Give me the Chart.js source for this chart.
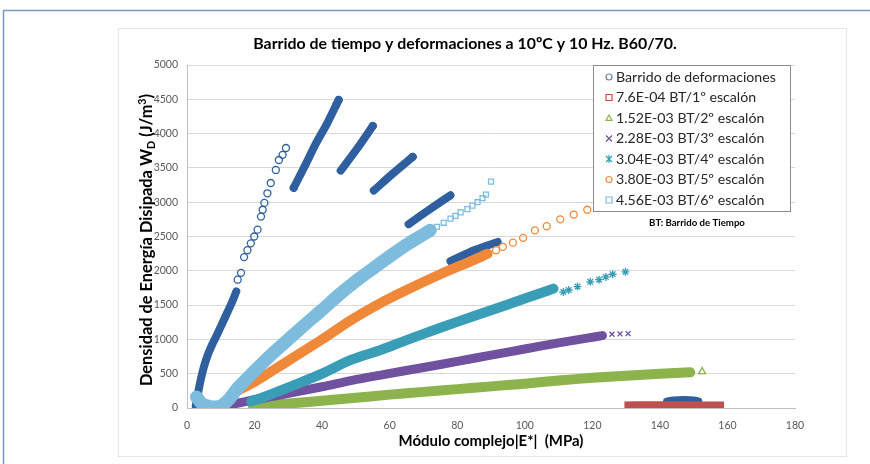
<!DOCTYPE html>
<html>
<head>
<meta charset="utf-8">
<script src="https://cdn.jsdelivr.net/npm/chart.js@4.4.0/dist/chart.umd.min.js"></script>
<style>
  html, body { margin: 0; padding: 0; background: #fff; }
  #wrap { width: 870px; height: 464px; position: relative; }
</style>
</head>
<body>
<div id="wrap"><canvas id="c" width="870" height="464"></canvas></div>
<script>
// ---------- axis ticks ----------
const xTickValues = [0, 20, 40, 60, 80, 100, 120, 140, 160, 180];
const yTickValues = [0, 500, 1000, 1500, 2000, 2500, 3000, 3500, 4000, 4500, 5000];

// ---------- series names ----------
const seriesNames = [
  'Barrido de deformaciones',
  '7.6E-04 BT/1º escalón',
  '1.52E-03 BT/2º escalón',
  '2.28E-03 BT/3º escalón',
  '3.04E-03 BT/4º escalón',
  '3.80E-03 BT/5º escalón',
  '4.56E-03 BT/6º escalón'
];

// ---------- data: [ |E*| (MPa), W_D (J/m3) ] ----------
// strain sweep: dense runs and the open-circle points between them
const sweepRunA = [[2.6,30],[3.2,200],[4.0,400],[5.0,600],[6.2,780],[7.6,940],[9.1,1090],[10.6,1250],[12.1,1410],[13.6,1575],[14.6,1700]];
const sweepRunB = [[31.6,3210],[35,3540],[38,3840],[41.5,4150],[44.9,4490]];
const sweepRunC = [[45.5,3460],[50.5,3790],[55,4110]];
const sweepRunD = [[55.3,3170],[61,3420],[66.8,3660]];
const sweepRunE = [[65.6,2680],[72,2900],[78,3100]];
const sweepRunF = [[78,2140],[85,2300],[92,2420]];
const sweepRunG = [[142,100],[144,118],[147,125],[150,118],[151.5,100]];
const sweepPoints = [[15,1870],[16,1970],[16.9,2200],[17.9,2300],[18.9,2400],[19.9,2500],[20.9,2600],[21.9,2790],[22.4,2890],[22.9,2990],[23.8,3130],[24.8,3280],[26.3,3470],[27.2,3615],[28.3,3690],[29.3,3790],[31.6,3210],[44.2,4420],[44.9,4490],[55,4110],[66.8,3660]];

// time sweeps (dense run + sparse final points)
const step1Run = [[129.5,30],[137,32],[145,32],[152,30],[159,30]];
const step2Run = [[19.5,20],[30,65],[40,105],[50,150],[60,195],[70,235],[80,275],[90,315],[100,355],[110,400],[120,440],[130,470],[140,500],[149,520]];
const step2Points = [[152.5,530]];
const step3Run = [[12,40],[16,80],[20,120],[25,165],[30,215],[40,310],[48.5,400],[57.3,480],[70,590],[80,680],[90,770],[100,860],[110,950],[118,1015],[123,1055]];
const step3Points = [[125.8,1075],[128.2,1080],[130.6,1085]];
const step4Run = [[19,100],[22.8,160],[30,300],[40,500],[48.5,700],[57.3,845],[65,990],[75,1170],[85,1340],[95,1510],[105,1680],[108.5,1740]];
const step4Points = [[111.4,1690],[113,1720],[115.6,1770],[119.4,1840],[122,1870],[124,1910],[126,1950],[129.8,1985]];
const step5Run = [[14,230],[20,380],[30,690],[40,1000],[48.5,1280],[57.3,1530],[65,1720],[75,1950],[85,2160],[89,2250]];
const step5Points = [[91.5,2300],[93.5,2350],[96.5,2410],[99.5,2480],[103,2590],[106.5,2650],[110.5,2750],[114.5,2820],[118.5,2890]];
const step6Run = [[2.8,160],[4.5,60],[7,20],[10,30],[12.5,130],[15,290],[20,540],[25,780],[30,1000],[35,1220],[40,1430],[45,1650],[50,1850],[55,2030],[60,2210],[65,2380],[70,2530],[72,2590]];
const step6Points = [[74,2640],[76,2700],[78,2760],[79.5,2800],[81,2850],[83,2900],[84.5,2950],[86,3000],[87.5,3060],[88.5,3110],[90,3300]];

// ---------- styling ----------
const COLORS = ['#2F5F9E', '#C0504D', '#8CB34C', '#6F51A0', '#3A9DB8', '#F0883A', '#7DBCDD'];
const MARKERS = ['circle', 'rect', 'triangle', 'crossRot', 'star', 'circle', 'rect'];
const FONT = 'Lato, "Open Sans", sans-serif';

const toXY = arr => arr.map(p => ({ x: p[0], y: p[1] }));

// a dense run is drawn as a thick stroke; sparse points as open markers
function run(arr, s, width, cap) {
  return {
    data: toXY(arr), showLine: true, pointRadius: 0, borderColor: COLORS[s],
    borderWidth: width, borderCapStyle: cap || 'round', borderJoinStyle: 'round',
    tension: 0.3, order: 7 - s, fill: false
  };
}
function points(arr, s, radius) {
  return {
    data: toXY(arr), showLine: false, pointStyle: MARKERS[s], pointRadius: radius || 3.5,
    pointBorderColor: COLORS[s], pointBackgroundColor: 'rgba(0,0,0,0)', pointBorderWidth: 1.3,
    order: 7 - s
  };
}

const datasets = [
  run(sweepRunA, 0, 8), run(sweepRunB, 0, 8), run(sweepRunC, 0, 8), run(sweepRunD, 0, 8),
  run(sweepRunE, 0, 8), run(sweepRunF, 0, 8), run(sweepRunG, 0, 7),
  points(sweepPoints, 0, 3.5),
  run(step1Run, 1, 9, 'butt'),
  run(step2Run, 2, 10), points(step2Points, 2, 4),
  run(step3Run, 3, 9), points(step3Points, 3, 3.5),
  run(step4Run, 4, 10), points(step4Points, 4, 4),
  run(step5Run, 5, 10), points(step5Points, 5, 3.5),
  run(step6Run, 6, 13), points(step6Points, 6, 3.5)
];

// ---------- drawing helpers ----------
function fitFont(ctx, text, weight, target) {
  ctx.font = `${weight} 20px ${FONT}`;
  return 20 * target / ctx.measureText(text).width;
}

function drawMarker(ctx, style, x, y, r, color) {
  ctx.save();
  ctx.strokeStyle = color;
  ctx.lineWidth = 1.2;
  ctx.beginPath();
  if (style === 'circle') {
    ctx.arc(x, y, r, 0, Math.PI * 2);
  } else if (style === 'rect') {
    ctx.rect(x - r, y - r, 2 * r, 2 * r);
  } else if (style === 'triangle') {
    ctx.moveTo(x, y - r); ctx.lineTo(x + r, y + r * 0.8); ctx.lineTo(x - r, y + r * 0.8); ctx.closePath();
  } else if (style === 'crossRot') {
    ctx.moveTo(x - r, y - r); ctx.lineTo(x + r, y + r); ctx.moveTo(x + r, y - r); ctx.lineTo(x - r, y + r);
  } else if (style === 'star') {
    ctx.moveTo(x - r, y - r); ctx.lineTo(x + r, y + r); ctx.moveTo(x + r, y - r); ctx.lineTo(x - r, y + r);
    ctx.moveTo(x, y - r * 1.3); ctx.lineTo(x, y + r * 1.3);
  }
  ctx.stroke();
  ctx.restore();
}

// text made of runs with their own size and vertical shift (subscripts / superscripts)
function drawRich(ctx, parts, cx, cy, weight, size) {
  let total = 0;
  parts.forEach(p => { ctx.font = `${weight} ${size * (p.scale || 1)}px ${FONT}`; p.w = ctx.measureText(p.t).width; total += p.w; });
  let x = cx - total / 2;
  ctx.textAlign = 'left';
  ctx.textBaseline = 'middle';
  parts.forEach(p => {
    ctx.font = `${weight} ${size * (p.scale || 1)}px ${FONT}`;
    ctx.fillText(p.t, x, cy + (p.dy || 0) * size);
    x += p.w;
  });
}

const decor = {
  id: 'decor',
  beforeDraw(chart) {
    const ctx = chart.ctx;
    ctx.save();
    ctx.fillStyle = '#fff';
    ctx.fillRect(0, 0, chart.width, chart.height);
    // page frame
    ctx.strokeStyle = '#7E98C2';
    ctx.lineWidth = 1.5;
    ctx.beginPath();
    ctx.moveTo(3.5, chart.height); ctx.lineTo(3.5, 10.5); ctx.lineTo(chart.width, 10.5);
    ctx.stroke();
    // chart object outline
    ctx.strokeStyle = '#E6E6E6';
    ctx.lineWidth = 1;
    ctx.strokeRect(118.5, 28.5, 728, 428);
    ctx.restore();
  },
  afterDraw(chart) {
    const ctx = chart.ctx;
    ctx.save();
    ctx.fillStyle = '#000';

    // heading
    const title = 'Barrido de tiempo y deformaciones a 10ºC y 10 Hz. B60/70.';
    const ts = fitFont(ctx, title, 'bold', 424);
    ctx.font = `bold ${ts}px ${FONT}`;
    ctx.textAlign = 'center';
    ctx.textBaseline = 'middle';
    ctx.fillText(title, 465, 44);

    // x axis title
    const xt = 'Módulo complejo|E*|  (MPa)';
    const xs = fitFont(ctx, xt, 'bold', 185);
    ctx.font = `bold ${xs}px ${FONT}`;
    ctx.fillText(xt, 491, 441);

    // y axis title with subscript and superscript
    ctx.save();
    ctx.translate(147, 240);
    ctx.rotate(-Math.PI / 2);
    const yParts = [
      { t: 'Densidad de Energía Disipada W' },
      { t: 'D', scale: 0.65, dy: 0.25 },
      { t: ' (J/m' },
      { t: '3', scale: 0.65, dy: -0.3 },
      { t: ')' }
    ];
    const ys = fitFont(ctx, 'Densidad de Energía Disipada WD (J/m3)', 'bold', 300);
    drawRich(ctx, yParts, 0, 0, 'bold', ys);
    ctx.restore();

    // legend
    const lx = 593.5, ly = 65.5, lw = 197, lh = 146;
    ctx.fillStyle = '#fff';
    ctx.fillRect(lx, ly, lw, lh);
    ctx.strokeStyle = '#8C8C8C';
    ctx.lineWidth = 1;
    ctx.strokeRect(lx, ly, lw, lh);
    const ls = fitFont(ctx, seriesNames[0], 'normal', 160);
    ctx.font = `normal ${ls}px ${FONT}`;
    ctx.textAlign = 'left';
    ctx.textBaseline = 'middle';
    seriesNames.forEach((name, i) => {
      const y = 77 + i * 20.5;
      drawMarker(ctx, MARKERS[i], 609, y, 3, i === 0 ? '#6C7FA0' : COLORS[i]);
      ctx.fillStyle = '#262626';
      ctx.fillText(name, 616, y);
    });

    // note under the legend
    const note = 'BT: Barrido de Tiempo';
    const ns = fitFont(ctx, note, 'bold', 96);
    ctx.font = `bold ${ns}px ${FONT}`;
    ctx.textAlign = 'center';
    ctx.fillStyle = '#000';
    ctx.fillText(note, 697, 223);
    ctx.restore();
  }
};

new Chart(document.getElementById('c'), {
  type: 'scatter',
  data: { datasets },
  options: {
    responsive: false,
    animation: false,
    devicePixelRatio: 1,
    layout: { padding: { left: 147, right: 75, top: 65, bottom: 26 } },
    plugins: { legend: { display: false }, tooltip: { enabled: false }, title: { display: false } },
    scales: {
      x: {
        type: 'linear',
        min: xTickValues[0],
        max: xTickValues[xTickValues.length - 1],
        afterBuildTicks: s => { s.ticks = xTickValues.map(v => ({ value: v })); },
        afterFit: s => { s.height = 30; },
        grid: { display: false, drawTicks: false },
        border: { display: true, color: '#BFBFBF', width: 1 },
        ticks: { padding: 11, color: '#595959', font: { family: FONT, size: 10.5 }, callback: v => String(v) }
      },
      y: {
        type: 'linear',
        min: yTickValues[0],
        max: yTickValues[yTickValues.length - 1],
        afterBuildTicks: s => { s.ticks = yTickValues.map(v => ({ value: v })); },
        afterFit: s => { s.width = 40; },
        grid: { color: '#D9D9D9', drawTicks: false },
        border: { display: true, color: '#BFBFBF', width: 1 },
        ticks: { padding: 9, color: '#595959', font: { family: FONT, size: 10.5 }, callback: v => String(v) }
      }
    }
  },
  plugins: [decor]
});
</script>
</body>
</html>
